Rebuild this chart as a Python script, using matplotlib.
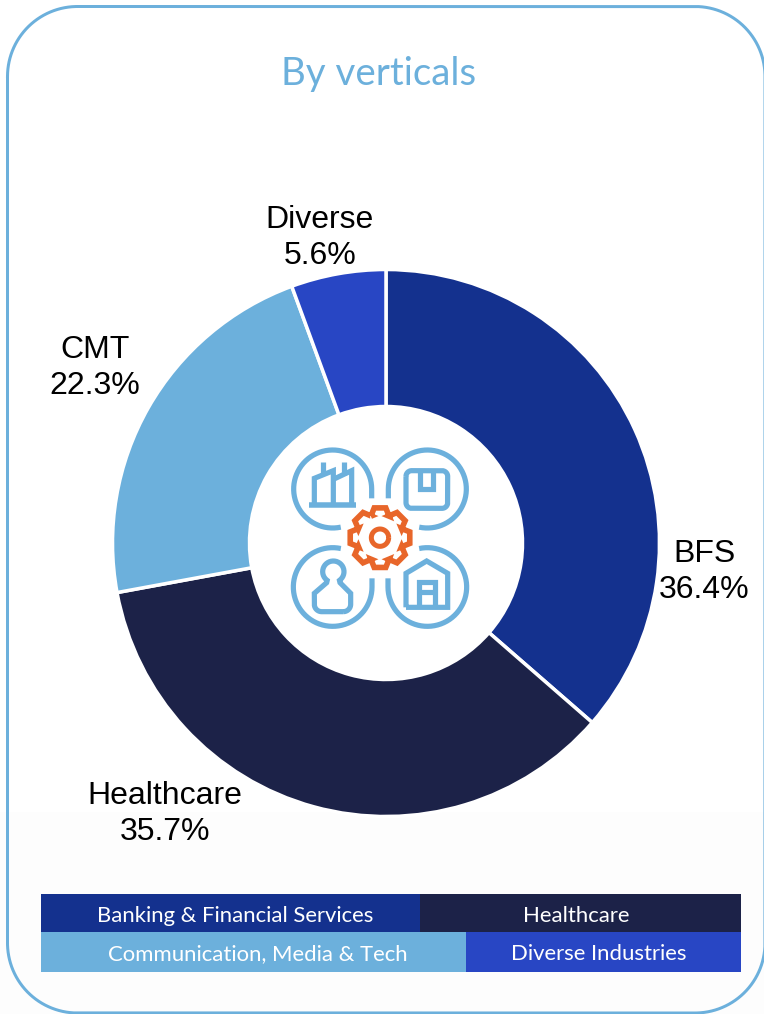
import matplotlib
matplotlib.use("Agg")
import matplotlib.pyplot as plt
import numpy as np
from matplotlib.patches import Rectangle

# Data
short_names = ["BFS", "Healthcare", "CMT", "Diverse"]
shares = [36.4, 35.7, 22.3, 5.6]
slice_colors = ["#14318E", "#1C2248", "#6CB0DC", "#2846C4"]
legend_row1 = ["Banking & Financial Services", "Healthcare"]
legend_row2 = ["Communication, Media & Tech", "Diverse Industries"]
title = "By verticals"

BLUE = "#6CB0DC"
ORANGE = "#E8662A"
W, H = 764, 1014
px = 0.72  # one pixel in points at dpi 100

fig = plt.figure(figsize=(W / 100, H / 100), dpi=100, facecolor="white")

# pie axes, y up
ax_pie = fig.add_axes([0, 0, 1, 1])
ax_pie.pie(shares, colors=slice_colors, startangle=90, counterclock=False,
           center=(386, H - 543), radius=273.5,
           wedgeprops=dict(width=137, edgecolor="white", linewidth=3.5 * px))
ax_pie.set_xlim(0, W)
ax_pie.set_ylim(0, H)
ax_pie.set_aspect("auto")
ax_pie.axis("off")

# overlay in image pixels, y down
ax = fig.add_axes([0, 0, 1, 1], facecolor="none")
ax.set_xlim(0, W)
ax.set_ylim(H, 0)
ax.axis("off")

# very light band at the bottom, under the pie
ax_pie.add_patch(Rectangle((0, 0), W, H - 812, facecolor="#FDFDFD", edgecolor="none", zorder=-1))


def arc(cx, cy, r, a0, a1):
    t = np.radians(np.linspace(a0, a1, 60))
    return list(zip(cx + r * np.cos(t), cy + r * np.sin(t)))


# rounded frame
fl, ft, fr, fb, rad = 7.5, 6.5, 765, 1013, 70
frame = (arc(fl + rad, ft + rad, rad, 180, 270) + arc(fr - rad, ft + rad, rad, 270, 360)
         + arc(fr - rad, fb - rad, rad, 0, 90) + arc(fl + rad, fb - rad, rad, 90, 180))
frame = np.array(frame + frame[:1])
ax.plot(frame[:, 0], frame[:, 1], color=BLUE, lw=3 * px, clip_on=False)

ax.text(379, 74, title, color=BLUE, fontsize=27.7, family="Lato", ha="center", va="center")

# slice labels
label_pos = [(704, 572), (165, 814), (95, 368), (320, 238)]
for name, val, (x, y) in zip(short_names, shares, label_pos):
    ax.text(x, y, f"{name}\n{val}%", fontsize=23, family="Liberation Sans",
            ha="center", va="center", color="black", linespacing=1.27)

# legend strip
row1_edges = [41, 420, 741]
row2_edges = [41, 466, 741]
row1_colors = [slice_colors[0], slice_colors[1]]
row2_colors = [slice_colors[2], slice_colors[3]]
row1_text_x = [235, 576]
row2_text_x = [258, 599]
for edges, colors, names, xs, y0, y1 in [
    (row1_edges, row1_colors, legend_row1, row1_text_x, 894, 932),
    (row2_edges, row2_colors, legend_row2, row2_text_x, 932, 972),
]:
    for i in range(2):
        ax.add_patch(Rectangle((edges[i], y0), edges[i + 1] - edges[i], y1 - y0,
                               facecolor=colors[i], edgecolor="none"))
        ax.text(xs[i], (y0 + y1) / 2 + 2.5, names[i], color="white", fontsize=15.9,
                family="Lato", ha="center", va="center")


# icon, drawn in crop coordinates of the zoomed centre
def zx(x):
    return 270 + np.asarray(x, dtype=float) / 3


def zy(y):
    return 430 + np.asarray(y, dtype=float) / 3


def stroke(pts, color=BLUE, lw=5.2, closed=False):
    pts = np.array(pts, dtype=float)
    if closed:
        pts = np.vstack([pts, pts[:1]])
    ax.plot(zx(pts[:, 0]), zy(pts[:, 1]), color=color, lw=lw * px,
            solid_capstyle="butt", solid_joinstyle="miter")


stroke([(305, 205)] + arc(188, 177, 117, 0, -282))
stroke([(355, 205)] + arc(472, 177, 117, 180, 462))
stroke(arc(188, 471, 118, -78, -360) + [(306, 445)])
stroke(arc(472, 471, 118, -102, 180) + [(354, 445)])

# factory
stroke([(117, 225), (258, 225)], lw=5.5)
stroke([(133, 225), (133, 145), (190, 122), (190, 225)])
stroke([(190, 148), (245, 122), (245, 225)])
stroke([(160, 97), (160, 135)])
stroke([(223, 97), (223, 135)])

# box
stroke(arc(425, 139, 17, 180, 270) + arc(516, 139, 17, 270, 360)
       + arc(516, 218, 17, 0, 90) + arc(425, 218, 17, 90, 180), closed=True)
stroke([(450, 125), (450, 178), (490, 178), (490, 125)])

# person
stroke(arc(220, 523, 22, 90, 0) + [(242, 490), (210, 458)] + arc(190, 425, 32, 55, -235)
       + [(170, 458), (133, 490)] + arc(155, 523, 22, 180, 90), closed=True)

# warehouse
stroke([(408, 532), (408, 430), (470, 393), (533, 430), (533, 532)], closed=True)
stroke([(447, 525), (447, 455), (495, 455), (495, 525)])
stroke([(447, 487), (495, 487)])

# gear
gear = []
for k in range(8):
    t = k * 45 - 90
    for a, r in [(-23, 70), (-11, 91), (11, 91), (23, 70)]:
        gear.append((330 + r * np.cos(np.radians(t + a)), 323 + r * np.sin(np.radians(t + a))))
stroke(gear, color=ORANGE, lw=5.6, closed=True)
stroke(arc(330, 323, 26, 0, 360), color=ORANGE, lw=5.0)

fig.savefig("out.png", dpi=100)
